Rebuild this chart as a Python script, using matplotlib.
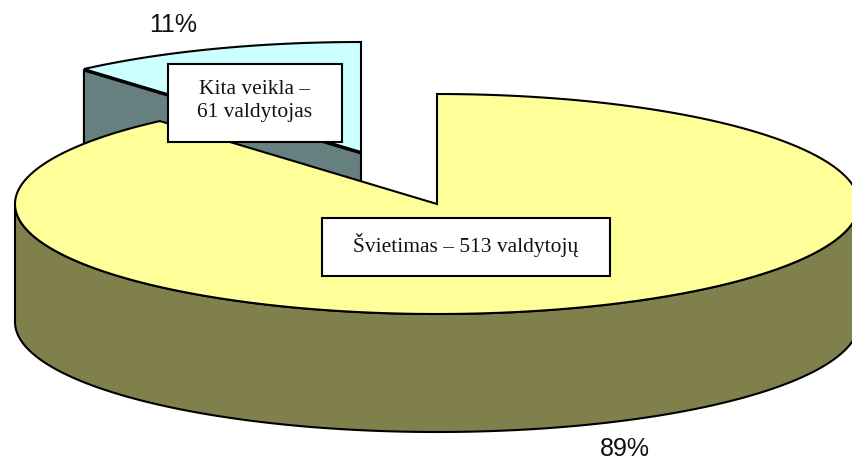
import numpy as np
import matplotlib
matplotlib.use("Agg")
import matplotlib.pyplot as plt

# shares of the two slices (labels round them to 89 / 11)
slice_names = ["Švietimas", "Kita veikla"]
shares = [88.6, 11.4]
pct_labels = ["89%", "11%"]
box_labels = ["Švietimas – 513 valdytojų", "Kita veikla –\n61 valdytojas"]

CX, CY = 437, 204
RX, RY = 422, 110
DEPTH = 118
EXPLODE = (-76, -52)
LW = 1.5


def arc(t1, t2, dx=0, dy=0, n=200):
    # angles in degrees, clockwise from the top of the ellipse
    t = np.radians(np.linspace(t1, t2, n))
    return CX + dx + RX * np.sin(t), CY + dy - RY * np.cos(t)


def box(ax, x0, y0, x1, y1, text):
    ax.fill([x0, x1, x1, x0], [y0, y0, y1, y1], facecolor="white", edgecolor="black",
            linewidth=LW, zorder=10)
    ax.text((x0 + x1) / 2, (y0 + y1) / 2 - 2, text, ha="center", va="center", fontsize=15.5,
            family="Liberation Serif", linespacing=1.3, zorder=11, color="#111111")


fig = plt.figure(figsize=(8.52, 4.59), dpi=100)
ax = fig.add_axes([0, 0, 1, 1])
ax.set_xlim(0, 852)
ax.set_ylim(459, 0)
ax.axis("off")

split = 360 * shares[0] / sum(shares)
ex, ey = EXPLODE

# small slice, exploded: cut wall first, then its top
xe, ye = arc(split, split, ex, ey, n=1)
ax.fill([xe[0], CX + ex, CX + ex, xe[0]], [ye[0] + 1.5, CY + ey + 1.5, CY + ey + DEPTH, ye[0] + DEPTH],
        facecolor="#667F7F", edgecolor="black", linewidth=LW, joinstyle="miter", zorder=1)
xs, ys = arc(split, 360, ex, ey)
ax.fill(np.r_[CX + ex, xs], np.r_[CY + ey, ys], facecolor="#CCFFFF", edgecolor="black",
        linewidth=LW, joinstyle="miter", zorder=2)

# big slice: front wall, then top
xw, yw = arc(90, 270)
ax.fill(np.r_[xw, xw[::-1]], np.r_[yw, yw[::-1] + DEPTH], facecolor="#80804C", edgecolor="black",
        linewidth=LW, zorder=3)
xb, yb = arc(0, split)
ax.fill(np.r_[CX, xb], np.r_[CY, yb], facecolor="#FFFF99", edgecolor="black",
        linewidth=LW, joinstyle="miter", zorder=4)

box(ax, 322, 218, 610, 276, box_labels[0])
box(ax, 168, 64, 342, 142, box_labels[1])

ax.text(625, 455.5, pct_labels[0], ha="center", va="baseline", fontsize=18, family="Liberation Sans", color="#111111")
ax.text(173, 32, pct_labels[1], ha="center", va="baseline", fontsize=18, family="Liberation Sans", color="#111111")

fig.savefig("out.png", dpi=100)
